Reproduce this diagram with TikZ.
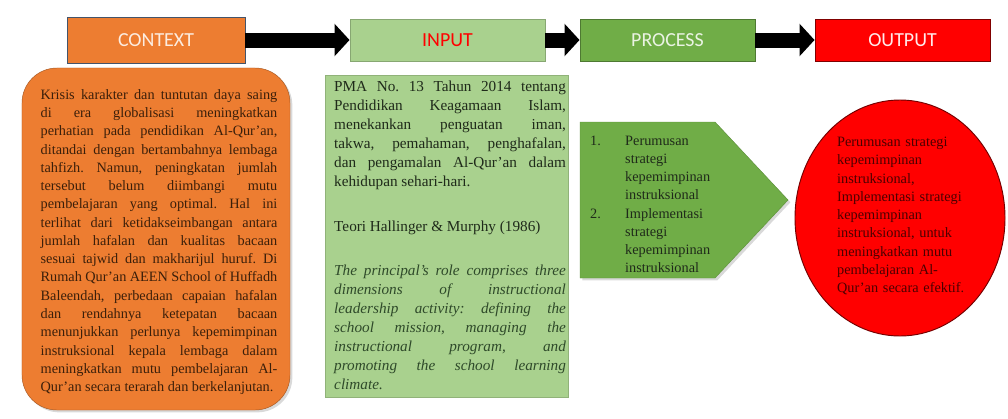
\documentclass[tikz,border=0pt]{standalone}
\usepackage{fontspec}
\usepackage{array}
\setmainfont{Liberation Serif}
\newfontfamily\headfont{Carlito}
\usetikzlibrary{arrows.meta,shapes.geometric,shadows}

\hyphenpenalty=10000
\tolerance=9999
\frenchspacing

\definecolor{ctxorange}{HTML}{ED7D31}
\definecolor{inpgreen}{HTML}{A9D18E}
\definecolor{procgreen}{HTML}{70AD47}
\definecolor{outred}{HTML}{FF0000}
\definecolor{headline}{HTML}{44546A}
\definecolor{ctxtext}{HTML}{3B1F0A}
\definecolor{inptext}{HTML}{1F2A1A}
\definecolor{quotetext}{HTML}{2F4A2A}
\definecolor{outtext}{HTML}{4A0000}

\def\bodyfont{\fontsize{12.2}{15.6}\selectfont}
\def\inpfont{\fontsize{13}{16.2}\selectfont}

\tikzset{
  headbox/.style={draw=headline, line width=0.8pt, minimum height=1.26cm,
    inner sep=0pt, font=\headfont\fontsize{17}{20}\selectfont},
  flow/.style={line width=0.45cm, -{Triangle[length=0.45cm,width=0.95cm]}},
  bodytext/.style={font=\bodyfont, align=justify, inner sep=0pt},
  softshadow/.style={drop shadow={shadow xshift=2pt, shadow yshift=-2pt, opacity=0.3}},
}

\begin{document}
\begin{tikzpicture}[x=0.03cm, y=-0.03cm]
 \useasboundingbox (0,0) rectangle (1008,418);
 % Top row
 \node (context) [headbox, fill=ctxorange, minimum width=5.34cm, minimum height=1.38cm,
   text=ctxorange!15] at (156,40) {CONTEXT};
 \node (input) [headbox, fill=inpgreen, draw=inpgreen!80!black, minimum width=5.85cm,
   text=outred] at (447.5,40) {INPUT};
 \node (process) [headbox, fill=procgreen, draw=procgreen!70!black, minimum width=5.25cm,
   text=procgreen!15] at (667.5,40) {PROCESS};
 \node (output) [headbox, fill=outred, draw=outred!50!black, minimum width=5.25cm,
   text=white!92!red] at (902.5,40) {OUTPUT};
 % Arrows
 \foreach \a/\b in {context/input, input/process, process/output}
  \draw[flow] (\a) -- (\b);
 % Context
 \node (ctxbody) [softshadow, fill=ctxorange, draw=ctxorange!70!black, rounded corners=1.05cm,
   minimum width=8.04cm, minimum height=10.26cm] at (156,239) {};
 \node (ctxtext) [bodytext, text width=7.1cm, text=ctxtext] at (159,242)
  {Krisis karakter dan tuntutan daya saing\linebreak
   di era globalisasi meningkatkan\linebreak
   perhatian pada pendidikan Al-Qur’an,\linebreak
   ditandai dengan bertambahnya lembaga\linebreak
   tahfizh. Namun, peningkatan jumlah\linebreak
   tersebut belum diimbangi mutu\linebreak
   pembelajaran yang optimal. Hal ini\linebreak
   terlihat dari ketidakseimbangan antara\linebreak
   jumlah hafalan dan kualitas bacaan\linebreak
   sesuai tajwid dan makharijul huruf. Di\linebreak
   Rumah Qur’an AEEN School of Huffadh\linebreak
   Baleendah, perbedaan capaian hafalan\linebreak
   dan rendahnya ketepatan bacaan\linebreak
   menunjukkan perlunya kepemimpinan\linebreak
   instruksional kepala lembaga dalam\linebreak
   meningkatkan mutu pembelajaran Al-\linebreak
   Qur’an secara terarah dan berkelanjutan.};
 % Input
 \node (inpbody) [fill=inpgreen, draw=inpgreen!85!black, minimum width=7.29cm,
   minimum height=9.66cm] at (446.5,236) {};
 \node (inptext) [bodytext, font=\inpfont, text width=6.95cm, text=inptext,
   anchor=north west] at (334,81)
  {PMA No. 13 Tahun 2014 tentang\linebreak
   Pendidikan Keagamaan Islam,\linebreak
   menekankan penguatan iman,\linebreak
   takwa, pemahaman, penghafalan,\linebreak
   dan pengamalan Al-Qur’an dalam\linebreak
   kehidupan sehari-hari.};
 \node (theory) [bodytext, font=\inpfont, text width=6.95cm, text=inptext,
   anchor=north west] at (334,221)
  {Teori Hallinger \& Murphy (1986)};
 \node (quote) [bodytext, font=\inpfont\itshape, text width=6.95cm, text=quotetext,
   anchor=north west] at (334,265)
  {The principal’s role comprises three\linebreak
   dimensions of instructional\linebreak
   leadership activity: defining the\linebreak
   school mission, managing the\linebreak
   instructional program, and\linebreak
   promoting the school learning\linebreak
   climate.};
 % Process
 \filldraw[softshadow, fill=procgreen, draw=procgreen!85!black]
  (580,122) -- (715,122) -- (788,200) -- (715,278) -- (580,278) -- cycle;
 \node (proctext) [inner sep=0pt, anchor=north west, font=\bodyfont, text=inptext] at (590,132)
  {\begin{tabular}{@{}p{1.05cm}@{}>{\raggedright\arraybackslash}p{2.85cm}@{}}
   1. & Perumusan strategi kepemimpinan instruksional\\
   2. & Implementasi strategi kepemimpinan instruksional
   \end{tabular}};
 % Output
 \node (outbody) [ellipse, fill=outred, draw=outred!45!black, line width=0.8pt,
   minimum width=6.3cm, minimum height=7.08cm] at (900,218) {};
 \node (outtext) [inner sep=0pt, text width=3.95cm, align=left, font=\bodyfont,
   text=outtext] at (903,216)
  {Perumusan strategi kepemimpinan instruksional, Implementasi strategi
   kepemimpinan instruksional, untuk meningkatkan mutu pembelajaran Al-Qur’an
   secara efektif.};
\end{tikzpicture}
\end{document}
